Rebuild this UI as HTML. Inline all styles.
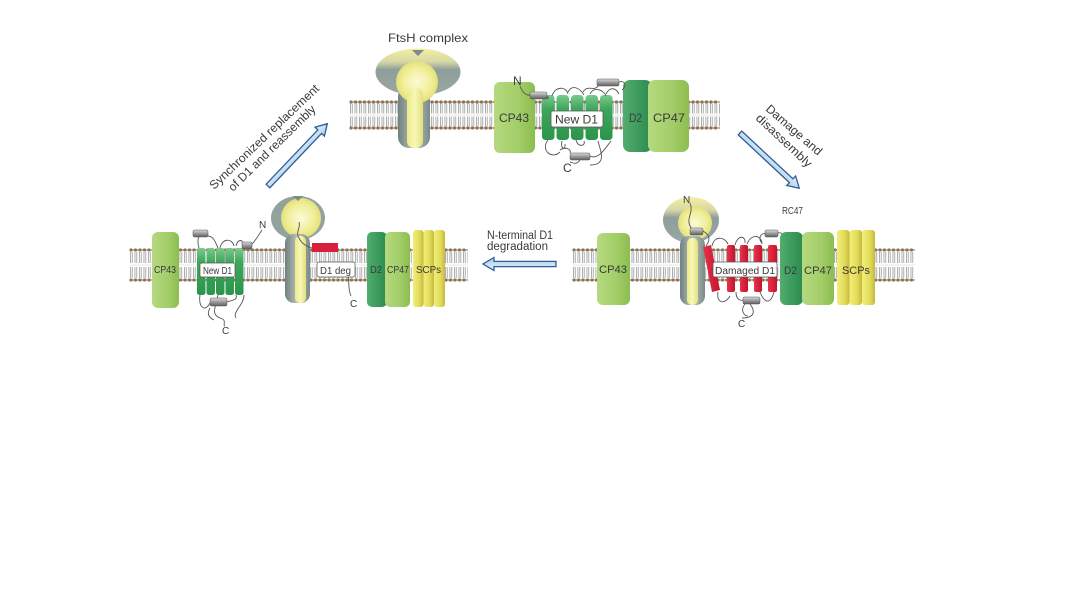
<!DOCTYPE html>
<html><head><meta charset="utf-8"><style>
html,body{margin:0;padding:0;background:#fff;}
svg{display:block;}
text{font-family:"Liberation Sans",Arial,sans-serif;fill:#3a3a3a;}
</style></head><body>
<svg width="1076" height="592" viewBox="0 0 1076 592" xmlns="http://www.w3.org/2000/svg">
<defs>
<linearGradient id="gCP" x1="0" x2="1" y1="0" y2="0"><stop offset="0" stop-color="#b6d97f"/><stop offset="0.6" stop-color="#a2cd68"/><stop offset="1" stop-color="#8cbd50"/></linearGradient>
<linearGradient id="gD2" x1="0" x2="1"><stop offset="0" stop-color="#52ad6e"/><stop offset="1" stop-color="#2a8a4e"/></linearGradient>
<linearGradient id="gD1" x1="0" x2="0" y1="0" y2="1"><stop offset="0" stop-color="#7cc98c"/><stop offset="0.3" stop-color="#3fa75c"/><stop offset="1" stop-color="#2a954c"/></linearGradient>
<linearGradient id="gSCP" x1="0" x2="1"><stop offset="0" stop-color="#f1ee7a"/><stop offset="0.6" stop-color="#e2dc5a"/><stop offset="1" stop-color="#c4b93c"/></linearGradient>
<linearGradient id="gRed" x1="0" x2="1"><stop offset="0" stop-color="#e8334a"/><stop offset="1" stop-color="#c3142e"/></linearGradient>
<linearGradient id="gCyl" x1="0" x2="0" y1="0" y2="1"><stop offset="0" stop-color="#dcdcdc"/><stop offset="0.5" stop-color="#9a9a9a"/><stop offset="1" stop-color="#5e5e5e"/></linearGradient>
<linearGradient id="gCap" x1="0" x2="0" y1="0" y2="1"><stop offset="0" stop-color="#f3efa0"/><stop offset="0.28" stop-color="#d8d8a6"/><stop offset="0.45" stop-color="#8e9e9a"/><stop offset="1" stop-color="#9aa8a2"/></linearGradient>
<linearGradient id="gStem" x1="0" x2="1"><stop offset="0" stop-color="#6f8080"/><stop offset="0.5" stop-color="#b9c3bd"/><stop offset="1" stop-color="#7a8a88"/></linearGradient>
<radialGradient id="gYel" cx="0.5" cy="0.5" r="0.5"><stop offset="0" stop-color="#fbfbd8"/><stop offset="0.7" stop-color="#f0ee96"/><stop offset="1" stop-color="#e2e07a"/></radialGradient>
<linearGradient id="gYs" x1="0" x2="1"><stop offset="0" stop-color="#eceb86"/><stop offset="0.5" stop-color="#f8f7b8"/><stop offset="1" stop-color="#e3e079"/></linearGradient>
<linearGradient id="gArr" x1="0" x2="0" y1="0" y2="1"><stop offset="0" stop-color="#e4f1fa"/><stop offset="1" stop-color="#a9cfe8"/></linearGradient>
</defs>
<rect width="1076" height="592" fill="#fff"/>

<!-- ===== MEMBRANES ===== -->
<g>
<!-- top -->
<line x1="350" y1="108.5" x2="720" y2="108.5" stroke="#a6a6a6" stroke-width="10" stroke-dasharray="0.9 0.9 0.9 1.8"/>
<line x1="350" y1="121.5" x2="720" y2="121.5" stroke="#a6a6a6" stroke-width="10" stroke-dasharray="0.9 0.9 0.9 1.8"/>
<line x1="350" y1="115" x2="720" y2="115" stroke="#cfcfcf" stroke-width="0.6"/>
<line x1="350" y1="102" x2="720" y2="102" stroke="#9b866a" stroke-width="1.2"/>
<line x1="351" y1="102" x2="720" y2="102" stroke="#8c7558" stroke-width="3.2" stroke-dasharray="0 4.5" stroke-linecap="round"/>
<line x1="350" y1="128" x2="720" y2="128" stroke="#9b866a" stroke-width="1.2"/>
<line x1="351" y1="128" x2="720" y2="128" stroke="#8c7558" stroke-width="3.2" stroke-dasharray="0 4.5" stroke-linecap="round"/>
<!-- left -->
<line x1="130" y1="257.5" x2="468" y2="257.5" stroke="#a6a6a6" stroke-width="11" stroke-dasharray="0.9 0.9 0.9 1.8"/>
<line x1="130" y1="272.5" x2="468" y2="272.5" stroke="#a6a6a6" stroke-width="11" stroke-dasharray="0.9 0.9 0.9 1.8"/>
<line x1="130" y1="265" x2="468" y2="265" stroke="#cfcfcf" stroke-width="0.6"/>
<line x1="130" y1="250" x2="468" y2="250" stroke="#9b866a" stroke-width="1.2"/>
<line x1="131" y1="250" x2="468" y2="250" stroke="#8c7558" stroke-width="3.2" stroke-dasharray="0 4.5" stroke-linecap="round"/>
<line x1="130" y1="280" x2="468" y2="280" stroke="#9b866a" stroke-width="1.2"/>
<line x1="131" y1="280" x2="468" y2="280" stroke="#8c7558" stroke-width="3.2" stroke-dasharray="0 4.5" stroke-linecap="round"/>
<!-- right -->
<line x1="573" y1="257.5" x2="915" y2="257.5" stroke="#a6a6a6" stroke-width="11" stroke-dasharray="0.9 0.9 0.9 1.8"/>
<line x1="573" y1="272.5" x2="915" y2="272.5" stroke="#a6a6a6" stroke-width="11" stroke-dasharray="0.9 0.9 0.9 1.8"/>
<line x1="573" y1="265" x2="915" y2="265" stroke="#cfcfcf" stroke-width="0.6"/>
<line x1="573" y1="250" x2="915" y2="250" stroke="#9b866a" stroke-width="1.2"/>
<line x1="574" y1="250" x2="915" y2="250" stroke="#8c7558" stroke-width="3.2" stroke-dasharray="0 4.5" stroke-linecap="round"/>
<line x1="573" y1="280" x2="915" y2="280" stroke="#9b866a" stroke-width="1.2"/>
<line x1="574" y1="280" x2="915" y2="280" stroke="#8c7558" stroke-width="3.2" stroke-dasharray="0 4.5" stroke-linecap="round"/>
</g>

<!-- ===== TOP PANEL ===== -->
<text x="388" y="42" font-size="12" textLength="80" lengthAdjust="spacingAndGlyphs">FtsH complex</text>
<!-- FtsH top -->
<ellipse cx="418" cy="72" rx="42.5" ry="23.5" fill="url(#gCap)"/>
<path d="M412 50 L418 56 L424 50 Z" fill="#7d8a88"/>
<rect x="398" y="86" width="32" height="62" rx="11" fill="url(#gStem)"/>
<circle cx="417" cy="82" r="21" fill="url(#gYel)"/>
<rect x="407" y="88" width="16" height="60" rx="7" fill="url(#gYs)"/>

<!-- CP43 -->
<rect x="494" y="82" width="41" height="71" rx="6" fill="url(#gCP)"/>
<text x="499" y="122" font-size="12" textLength="30" lengthAdjust="spacingAndGlyphs">CP43</text>
<!-- D1 helices -->
<g fill="url(#gD1)">
<rect x="542" y="95" width="12.5" height="45" rx="3.5"/>
<rect x="556.5" y="95" width="12.5" height="45" rx="3.5"/>
<rect x="571" y="95" width="12.5" height="45" rx="3.5"/>
<rect x="585.5" y="95" width="12.5" height="45" rx="3.5"/>
<rect x="600" y="95" width="12.5" height="45" rx="3.5"/>
</g>
<!-- D2 / CP47 -->
<rect x="623" y="80" width="29" height="72" rx="7" fill="url(#gD2)"/>
<rect x="648" y="80" width="41" height="72" rx="7" fill="url(#gCP)"/>
<text x="629" y="122" font-size="12" textLength="13" lengthAdjust="spacingAndGlyphs">D2</text>
<text x="653" y="122" font-size="12" textLength="32" lengthAdjust="spacingAndGlyphs">CP47</text>
<!-- loops top -->
<g fill="none" stroke="#555" stroke-width="0.9">
<path d="M520 86 C 522 92, 526 96, 531 95"/>
<path d="M547 96 C 550 98, 546 100, 548 97"/>
<path d="M552 96 C 555 86, 566 86, 568 94 M568 92 C 572 84, 580 88, 584 95 M583 92 C 588 84, 594 92, 598 86 M590 94 C 594 86, 604 90, 606 96 M606 94 C 610 86, 616 88, 619 94 M619 82 C 625 80, 627 86, 622 90"/>
<path d="M548 140 C 540 150, 552 160, 560 152 M560 150 C 566 146, 572 150, 570 153 M590 156 C 598 160, 604 150, 611 141 M576 140 C 578 148, 586 146, 584 141 M562 141 C 560 150, 566 150, 565 144 M580 160 C 576 166, 572 162, 570 162 M598 141 C 600 150, 608 165, 590 165"/>
</g>
<g fill="url(#gCyl)" stroke="#555" stroke-width="0.5">
<rect x="530" y="92" width="17" height="7" rx="1.5"/>
<rect x="597" y="79" width="22" height="7" rx="1.5"/>
<rect x="570" y="153" width="20" height="7" rx="1.5"/>
</g>
<rect x="551" y="111" width="52" height="16" rx="2" fill="#fff" stroke="#555" stroke-width="0.8"/>
<text x="555" y="123.5" font-size="12" textLength="43" lengthAdjust="spacingAndGlyphs">New D1</text>
<text x="513" y="85" font-size="12">N</text>
<text x="563" y="172" font-size="12">C</text>

<!-- ===== LEFT PANEL ===== -->
<rect x="152" y="232" width="27" height="76" rx="6" fill="url(#gCP)"/>
<text x="154" y="273" font-size="10" textLength="22" lengthAdjust="spacingAndGlyphs">CP43</text>
<g fill="url(#gD1)">
<rect x="197" y="248" width="8.5" height="47" rx="2.5"/>
<rect x="206.5" y="248" width="8.5" height="47" rx="2.5"/>
<rect x="216" y="248" width="8.5" height="47" rx="2.5"/>
<rect x="225.5" y="248" width="8.5" height="47" rx="2.5"/>
<rect x="235" y="248" width="8.5" height="47" rx="2.5"/>
</g>
<g fill="none" stroke="#555" stroke-width="0.9">
<path d="M262 230 C 258 236, 256 240, 252 244"/>
<path d="M208 232 C 200 230, 196 238, 199 248 M208 236 C 214 236, 216 244, 218 248 M220 248 C 222 238, 232 238, 234 246 M236 246 C 238 238, 244 240, 242 244"/>
<path d="M200 295 C 198 305, 204 314, 210 303 M227 302 C 232 300, 238 300, 236 295 M218 295 C 214 310, 212 315, 220 318 C 228 320, 222 326, 225 326 M210 308 C 206 315, 210 318, 214 320 M244 295 C 244 305, 232 312, 236 318"/>
</g>
<g fill="url(#gCyl)" stroke="#555" stroke-width="0.5">
<rect x="193" y="230" width="15" height="7" rx="1.5"/>
<rect x="242" y="242" width="10" height="7" rx="1.5"/>
<rect x="210" y="298" width="17" height="8" rx="1.5"/>
</g>
<rect x="200" y="263" width="35" height="14" rx="2" fill="#fff" stroke="#555" stroke-width="0.7"/>
<text x="203" y="274" font-size="10" textLength="29" lengthAdjust="spacingAndGlyphs">New D1</text>
<text x="259" y="228" font-size="10">N</text>
<text x="222" y="334" font-size="10">C</text>
<!-- FtsH left -->
<ellipse cx="298" cy="218" rx="27" ry="22" fill="#92a29c"/>
<circle cx="301" cy="218" r="20" fill="url(#gYel)"/>
<path d="M293 196 L298 201 L303 196 Z" fill="#7d8a88"/>
<rect x="285" y="234" width="25" height="69" rx="9" fill="url(#gStem)"/>
<rect x="295" y="236" width="11" height="67" rx="5" fill="url(#gYs)"/>
<path d="M299 222 C 301 228, 295 232, 299 238 C 302 244, 306 246, 312 248" fill="none" stroke="#555" stroke-width="0.9"/>
<rect x="312" y="243" width="26" height="9" fill="#d8203c"/>
<path d="M345 270 C 352 275, 346 285, 351 296" fill="none" stroke="#555" stroke-width="0.9"/>
<rect x="317" y="262" width="38" height="15" rx="2" fill="#fff" stroke="#555" stroke-width="0.7"/>
<text x="320" y="274" font-size="10" textLength="31" lengthAdjust="spacingAndGlyphs">D1 deg</text>
<text x="350" y="307" font-size="10">C</text>
<rect x="367" y="232" width="20" height="75" rx="5" fill="url(#gD2)"/>
<rect x="385" y="232" width="25" height="75" rx="5" fill="url(#gCP)"/>
<text x="370" y="273" font-size="10" textLength="12" lengthAdjust="spacingAndGlyphs">D2</text>
<text x="387" y="273" font-size="10" textLength="22" lengthAdjust="spacingAndGlyphs">CP47</text>
<g fill="url(#gSCP)">
<rect x="413" y="230" width="10.5" height="77" rx="3"/>
<rect x="423.5" y="230" width="10.5" height="77" rx="3"/>
<rect x="434" y="230" width="11" height="77" rx="3"/>
</g>
<text x="416" y="273" font-size="10" textLength="25" lengthAdjust="spacingAndGlyphs">SCPs</text>

<!-- ===== RIGHT PANEL ===== -->
<rect x="597" y="233" width="33" height="72" rx="6" fill="url(#gCP)"/>
<text x="599" y="273" font-size="11" textLength="28" lengthAdjust="spacingAndGlyphs">CP43</text>
<!-- FtsH right -->
<ellipse cx="691" cy="220" rx="28" ry="23" fill="url(#gCap)"/>
<circle cx="695" cy="223" r="17" fill="url(#gYel)"/>
<rect x="680" y="236" width="25" height="69" rx="9" fill="url(#gStem)"/>
<rect x="687" y="238" width="11" height="67" rx="5" fill="url(#gYs)"/>
<!-- red helices -->
<g fill="url(#gRed)">
<polygon points="703,247 711,245 720,290 712,292"/>
<rect x="727" y="245" width="8" height="47" rx="2"/>
<rect x="740" y="245" width="8" height="47" rx="2"/>
<rect x="754" y="245" width="8" height="47" rx="2"/>
<rect x="768" y="245" width="9" height="47" rx="2"/>
</g>
<g fill="none" stroke="#555" stroke-width="0.9">
<path d="M690 203 C 694 212, 686 218, 690 226 C 693 232, 696 232, 696 230"/>
<path d="M703 231 C 708 234, 712 238, 706 246"/>
<path d="M712 246 C 714 236, 724 236, 728 244 M735 245 C 738 234, 746 236, 745 243 M747 244 C 752 232, 762 236, 762 244 M766 234 C 760 232, 758 240, 762 243 M778 233 C 784 232, 786 238, 780 242"/>
<path d="M718 292 C 716 302, 724 306, 730 296 M736 292 C 736 302, 744 302, 748 297 M760 292 C 764 302, 770 306, 774 292 M745 304 C 740 310, 744 316, 748 316 M750 304 C 756 312, 754 318, 742 318"/>
</g>
<g fill="url(#gCyl)" stroke="#555" stroke-width="0.5">
<rect x="690" y="228" width="13" height="7" rx="1.5"/>
<rect x="765" y="230" width="13" height="7" rx="1.5"/>
<rect x="743" y="297" width="17" height="7" rx="1.5"/>
</g>
<rect x="780" y="232" width="23" height="73" rx="6" fill="url(#gD2)"/>
<rect x="802" y="232" width="32" height="73" rx="6" fill="url(#gCP)"/>
<g fill="url(#gSCP)">
<rect x="837" y="230" width="12.5" height="75" rx="3"/>
<rect x="849.5" y="230" width="12.5" height="75" rx="3"/>
<rect x="862" y="230" width="13" height="75" rx="3"/>
</g>
<rect x="713" y="262" width="64" height="15" rx="2" fill="#fff" stroke="#555" stroke-width="0.7"/>
<text x="715" y="274" font-size="10" textLength="60" lengthAdjust="spacingAndGlyphs">Damaged D1</text>
<text x="784" y="274" font-size="11" textLength="13" lengthAdjust="spacingAndGlyphs">D2</text>
<text x="804" y="274" font-size="11" textLength="28" lengthAdjust="spacingAndGlyphs">CP47</text>
<text x="842" y="274" font-size="11" textLength="28" lengthAdjust="spacingAndGlyphs">SCPs</text>
<text x="683" y="203" font-size="10">N</text>
<text x="738" y="327" font-size="10">C</text>
<text x="782" y="214" font-size="10" textLength="21" lengthAdjust="spacingAndGlyphs">RC47</text>

<!-- ===== ARROWS ===== -->
<g fill="url(#gArr)" stroke="#2f5d9a" stroke-width="1.3" stroke-linejoin="miter">
<polygon transform="translate(268,186) rotate(-46.4)" points="0,-2.6 75,-2.6 75,-6.5 86,0 75,6.5 75,2.6 0,2.6"/>
<polygon transform="translate(740,133) rotate(43)" points="0,-2.6 70,-2.6 70,-6.5 81,0 70,6.5 70,2.6 0,2.6"/>
<polygon transform="translate(556,264) rotate(180)" points="0,-2.6 62,-2.6 62,-6.5 73,0 62,6.5 62,2.6 0,2.6"/>
</g>

<!-- ===== ARROW LABELS ===== -->
<text transform="translate(214,190) rotate(-43.5)" font-size="12" textLength="146" lengthAdjust="spacingAndGlyphs">Synchronized replacement</text>
<text transform="translate(233,192) rotate(-44.5)" font-size="12" textLength="117" lengthAdjust="spacingAndGlyphs">of D1 and reassembly</text>
<text transform="translate(765,110) rotate(41)" font-size="12" textLength="70" lengthAdjust="spacingAndGlyphs">Damage and</text>
<text transform="translate(755,119) rotate(43)" font-size="12" textLength="72" lengthAdjust="spacingAndGlyphs">disassembly</text>
<text x="487" y="239" font-size="11.5" textLength="66" lengthAdjust="spacingAndGlyphs">N-terminal D1</text>
<text x="487" y="250" font-size="11.5" textLength="61" lengthAdjust="spacingAndGlyphs">degradation</text>
</svg>
</body></html>
